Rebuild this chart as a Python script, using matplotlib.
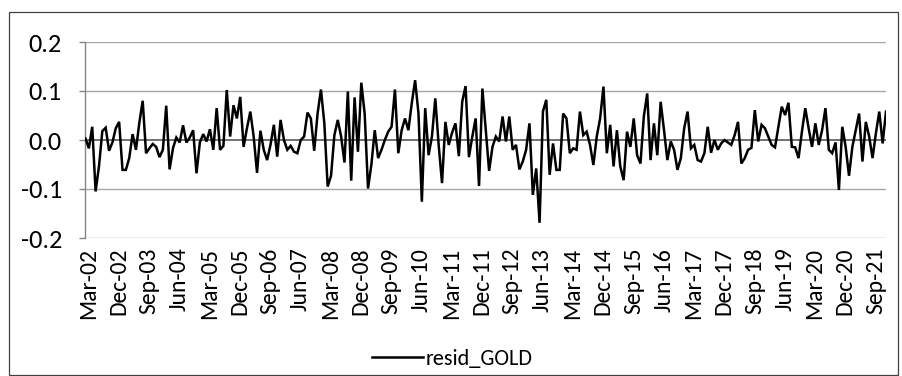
import numpy as np
import matplotlib
matplotlib.use("Agg")
import matplotlib.pyplot as plt
from matplotlib.patches import Rectangle
from matplotlib.transforms import ScaledTranslation

plt.rcParams['font.family'] = ['Carlito', 'Liberation Sans', 'DejaVu Sans']
plt.rcParams['axes.unicode_minus'] = False

# monthly residuals, Mar-02 onwards
resid_gold = [
    0.003, -0.017, 0.027, -0.105, -0.054, 0.018, 0.025, -0.022, -0.005, 0.024,
    0.037, -0.061, -0.061, -0.037, 0.012, -0.020, 0.035, 0.080, -0.027, -0.017,
    -0.008, -0.014, -0.035, -0.020, 0.070, -0.060, -0.017, 0.005, -0.005, 0.030,
    -0.005, 0.005, 0.020, -0.068, -0.005, 0.012, -0.003, 0.022, -0.020, 0.065,
    -0.020, -0.012, 0.102, 0.007, 0.071, 0.044, 0.088, -0.014, 0.024, 0.058,
    0.007, -0.067, 0.019, -0.020, -0.041, -0.010, 0.031, -0.034, 0.041, 0.000,
    -0.020, -0.012, -0.024, -0.027, 0.000, 0.007, 0.056, 0.044, -0.022, 0.054,
    0.103, 0.035, -0.095, -0.073, 0.010, 0.041, 0.007, -0.046, 0.099, -0.083,
    0.087, -0.024, 0.117, 0.054, -0.099, -0.050, 0.020, -0.037, -0.020, 0.000,
    0.017, 0.027, 0.103, -0.027, 0.020, 0.044, 0.020, 0.075, 0.122, 0.054,
    -0.126, 0.065, -0.031, 0.007, 0.085, -0.010, -0.088, 0.037, -0.010, 0.015,
    0.034, -0.033, 0.078, 0.110, -0.035, 0.007, 0.044, -0.094, 0.105, 0.020,
    -0.063, -0.014, 0.007, -0.003, 0.048, -0.003, 0.048, -0.020, -0.010, -0.060,
    -0.044, -0.020, 0.034, -0.112, -0.058, -0.169, 0.058, 0.082, -0.071, -0.007,
    -0.061, -0.061, 0.054, 0.044, -0.027, -0.017, -0.020, 0.058, 0.010, 0.017,
    -0.010, -0.051, 0.007, 0.044, 0.109, -0.027, 0.031, -0.054, 0.020, -0.054,
    -0.082, 0.017, -0.014, 0.044, -0.031, -0.048, 0.048, 0.095, -0.041, 0.034,
    -0.031, 0.078, 0.020, -0.041, -0.003, -0.020, -0.061, -0.037, 0.024, 0.058,
    -0.017, -0.010, -0.041, -0.044, -0.027, 0.027, -0.026, 0.000, -0.020, -0.007,
    0.000, -0.005, -0.010, 0.010, 0.037, -0.048, -0.037, -0.020, -0.016, 0.061,
    -0.003, 0.031, 0.024, 0.007, -0.010, -0.015, 0.027, 0.068, 0.051, 0.076,
    -0.014, -0.015, -0.037, 0.017, 0.065, 0.024, -0.014, 0.034, -0.010, 0.020,
    0.065, -0.020, -0.027, -0.005, -0.102, 0.027, -0.014, -0.073, -0.014, 0.020,
    0.054, -0.044, 0.037, 0.007, -0.037, 0.014, 0.058, -0.007, 0.058,
]

# every 9th month gets a label
tick_labels = [
    'Mar-02', 'Dec-02', 'Sep-03', 'Jun-04', 'Mar-05', 'Dec-05', 'Sep-06',
    'Jun-07', 'Mar-08', 'Dec-08', 'Sep-09', 'Jun-10', 'Mar-11', 'Dec-11',
    'Sep-12', 'Jun-13', 'Mar-14', 'Dec-14', 'Sep-15', 'Jun-16', 'Mar-17',
    'Dec-17', 'Sep-18', 'Jun-19', 'Mar-20', 'Dec-20', 'Sep-21',
]
tick_step = 9

y_ticks = [-0.2, -0.1, 0.0, 0.1, 0.2]

W, H = 903, 376
fig = plt.figure(figsize=(W / 100, H / 100), dpi=100)

# outer chart border
fig.patches.append(Rectangle((8.5 / W, 1.0 / H), (898 - 8.5) / W, (364.5 - 1.0) / H,
                             transform=fig.transFigure, fill=False,
                             edgecolor='#404040', linewidth=0.9))

ax = fig.add_axes([85.5 / W, (H - 238) / H, (886 - 85.5) / W, 196 / H])

x = np.arange(len(resid_gold))
ax.plot(x, resid_gold, color='black', linewidth=1.8, label='resid_GOLD',
        solid_joinstyle='miter', zorder=3)

ax.set_xlim(0, len(resid_gold) - 1)
ax.set_ylim(-0.2, 0.2)

# gridlines and zero axis
for v in y_ticks:
    if v != 0.0:
        ax.axhline(v, color='#a6a6a6', linewidth=1.0, zorder=1)
ax.axhline(0.0, color='#595959', linewidth=1.2, zorder=2)

for side in ['top', 'right', 'bottom']:
    ax.spines[side].set_visible(False)
ax.spines['left'].set_color('#868686')
ax.spines['left'].set_linewidth(1.0)

ax.set_yticks(y_ticks)
ax.set_yticklabels([f'{v:.1f}' for v in y_ticks])
ax.tick_params(axis='y', direction='out', length=4, width=1.0, color='#868686',
               labelsize=19, pad=13)

ax.set_xticks(x[::tick_step])
ax.set_xticklabels(tick_labels, rotation=90)
ax.tick_params(axis='x', length=0, labelsize=17, pad=7)
shift = ScaledTranslation(3 / 100, 0, fig.dpi_scale_trans)
for lbl in ax.get_xticklabels():
    lbl.set_transform(lbl.get_transform() + shift)

ax.legend(loc='center', bbox_to_anchor=(452 / W, 1 - 359 / H),
          bbox_transform=fig.transFigure, frameon=False,
          fontsize=16, handlelength=2.3, handletextpad=0.1, borderaxespad=0)

fig.savefig('out.png', dpi=100)
